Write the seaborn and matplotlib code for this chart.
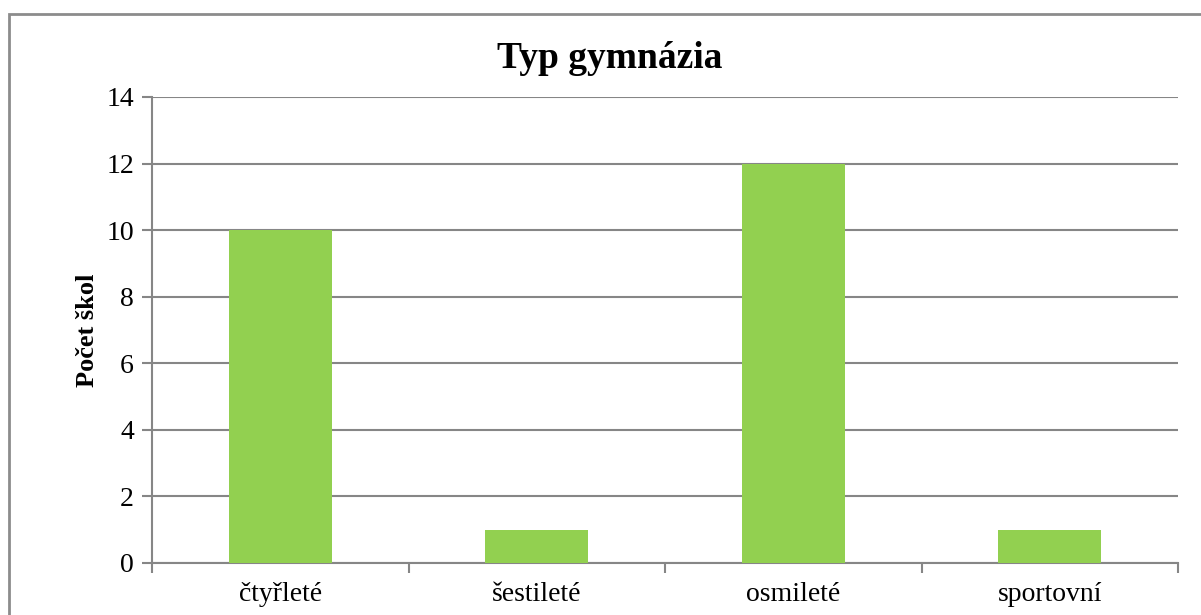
import matplotlib
matplotlib.use("Agg")
import matplotlib.pyplot as plt
import seaborn as sns
import pandas as pd
from matplotlib.patches import Rectangle

categories = ["čtyřleté", "šestileté", "osmileté", "sportovní"]
values = [10, 1, 12, 1]
yticks = [0, 2, 4, 6, 8, 10, 12, 14]

sns.set_theme(style="white")
plt.rcParams['font.family'] = ['Liberation Serif', 'DejaVu Serif']
plt.rcParams['text.color'] = 'black'
plt.rcParams['axes.labelcolor'] = 'black'

df = pd.DataFrame({"typ": categories, "pocet": values})

fig = plt.figure(figsize=(12.01, 6.15), dpi=100)
ax = fig.add_axes([152/1201, 1-563/615, (1178-152)/1201, (563-97)/615])

sns.barplot(data=df, x="typ", y="pocet", color="#92D050", width=0.4,
            saturation=1, ax=ax, zorder=3, linewidth=0, edgecolor="none")

grid_c = "#868686"
ax.set_ylim(0, 14)
ax.set_xlim(-0.5, 3.5)
ax.set_yticks(yticks)
ax.set_yticklabels([str(t) for t in yticks], fontsize=20)
ax.yaxis.grid(True, color=grid_c, linewidth=1.5, zorder=0)
ax.set_axisbelow(True)
ax.set_xticks(range(len(categories)))
ax.set_xticklabels(categories, fontsize=20)
ax.set_xticks([-0.5, 0.5, 1.5, 2.5, 3.5], minor=True)
ax.tick_params(axis='x', which='major', length=0, pad=14)
ax.tick_params(axis='x', which='minor', length=7, width=1.5, color=grid_c, direction='out', bottom=True)
ax.tick_params(axis='y', length=7, width=1.5, color=grid_c, direction='out', left=True, pad=6)
for t in ax.get_yticklabels() + ax.get_xticklabels():
    t.set_color("black")
for s in ["top", "right"]:
    ax.spines[s].set_visible(False)
for s in ["left", "bottom"]:
    ax.spines[s].set_color(grid_c)
    ax.spines[s].set_linewidth(1.5)
ax.set_xlabel("")
ax.set_ylabel("Počet škol", fontsize=19, fontweight="bold", labelpad=5, color="black")

fig.text(610/1201, 1-58/615, "Typ gymnázia", fontsize=27, fontweight="bold",
         ha="center", va="center", color="black")

fig.patches.append(Rectangle((9/1201, -0.1), 1.1, 0.1 + 1-14/615,
                             transform=fig.transFigure, fill=False,
                             edgecolor="#8c8c8c", linewidth=2))

fig.savefig("out.png", dpi=100)
